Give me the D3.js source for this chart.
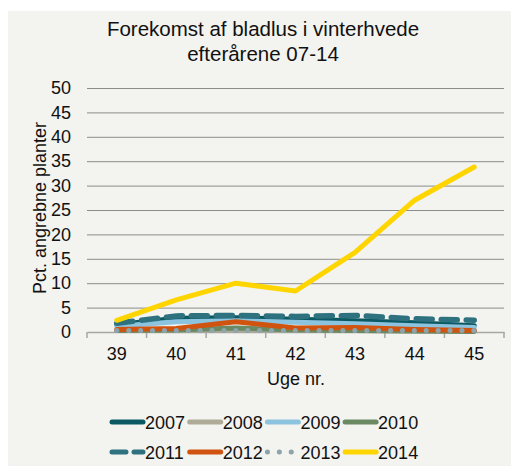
<!DOCTYPE html>
<html>
<head>
<meta charset="utf-8">
<script src="https://cdn.jsdelivr.net/npm/d3@7"></script>
<style>
  body { margin: 0; background: #fff; }
  text { font-family: "Liberation Sans", Arial, sans-serif; fill: #111; }
</style>
</head>
<body>
<svg id="chart" width="511" height="466"></svg>
<script>
// data
var weeks = ["39", "40", "41", "42", "43", "44", "45"];
var yTicks = [0, 5, 10, 15, 20, 25, 30, 35, 40, 45, 50];
var years = ["2007", "2008", "2009", "2010", "2011", "2012", "2013", "2014"];
var v2007 = [1.5, 2.8, 2.9, 2.6, 2.3, 1.9, 1.3];
var v2008 = [0.3, 0.3, 0.5, 0.3, 0.3, 0.2, 0.2];
var v2009 = [1.2, 2.1, 2.3, 2.0, 1.7, 1.3, 0.9];
var v2010 = [0.3, 0.4, 0.8, 0.4, 0.3, 0.2, 0.1];
var v2011 = [1.8, 3.3, 3.4, 3.2, 3.4, 2.7, 2.4];
var v2012 = [0.5, 0.7, 2.1, 0.8, 0.9, 0.5, 0.3];
var v2013 = [0.3, 0.3, 0.3, 0.3, 0.3, 0.3, 0.3];
var v2014 = [2.4, 6.6, 10.0, 8.4, 16.3, 27.0, 33.8];

var values = [v2007, v2008, v2009, v2010, v2011, v2012, v2013, v2014];
var colors = ["#0b5a63", "#aeab98", "#8cc3df", "#6b8a64", "#2e727f", "#d0530f", "#8ea4ab", "#ffd500"];
var dashes = [null, null, null, null, "16,9", null, "0.1,11.8", null];
var widths = [5, 5, 5, 5, 5.5, 5, 5, 5];

var svg = d3.select("#chart");

svg.append("rect")
  .attr("x", 8).attr("y", 11)
  .attr("width", 503).attr("height", 455)
  .attr("fill", "#f3f3ef");

var x = d3.scaleBand().domain(weeks).range([87, 504]);
var y = d3.scaleLinear().domain([0, 50]).range([332, 88]);

// title
svg.append("text").attr("x", 263).attr("y", 36)
  .attr("text-anchor", "middle").attr("font-size", 20.5)
  .text("Forekomst af bladlus i vinterhvede");
svg.append("text").attr("x", 263).attr("y", 61)
  .attr("text-anchor", "middle").attr("font-size", 20.5)
  .text("efterårene 07-14");

// gridlines + y labels
var yAxis = svg.append("g")
  .attr("transform", "translate(87,0)")
  .call(d3.axisLeft(y).tickValues(yTicks.slice(1)).tickSize(-417).tickPadding(16));
yAxis.select(".domain").remove();
yAxis.selectAll(".tick line").attr("stroke", "#8c8c8c");
yAxis.selectAll(".tick text").attr("font-size", 18).attr("font-family", "Liberation Sans, Arial, sans-serif").attr("fill", "#111");

svg.append("text").attr("x", 71).attr("y", y(0) + 6)
  .attr("text-anchor", "end").attr("font-size", 18).text("0");

// x axis
var xAxis = svg.append("g").attr("transform", "translate(0,332)")
  .call(d3.axisBottom(x).tickSize(0).tickPadding(15));
xAxis.select(".domain").attr("stroke", "#a6a6a6").attr("stroke-width", 1.5);
xAxis.selectAll(".tick text").attr("font-size", 18).attr("font-family", "Liberation Sans, Arial, sans-serif").attr("fill", "#111");
xAxis.selectAll("line.sep")
  .data(weeks.concat(["end"]))
  .enter().append("line")
  .attr("class", "sep")
  .attr("x1", function(d, i) { return 87 + i * x.step(); })
  .attr("x2", function(d, i) { return 87 + i * x.step(); })
  .attr("y1", 0).attr("y2", 6)
  .attr("stroke", "#a6a6a6").attr("stroke-width", 1.5);

svg.append("text").attr("x", 296).attr("y", 385)
  .attr("text-anchor", "middle").attr("font-size", 18).text("Uge nr.");

svg.append("text")
  .attr("transform", "translate(46,208) rotate(-90)")
  .attr("text-anchor", "middle").attr("font-size", 18)
  .text("Pct. angrebne planter");

// series
var line = d3.line()
  .x(function(d, i) { return x(weeks[i]) + x.bandwidth() / 2; })
  .y(function(d) { return y(d); });

svg.selectAll("path.series")
  .data(values)
  .enter().append("path")
  .attr("class", "series")
  .attr("d", line)
  .attr("fill", "none")
  .attr("stroke", function(d, i) { return colors[i]; })
  .attr("stroke-width", function(d, i) { return widths[i]; })
  .attr("stroke-linecap", "round")
  .attr("stroke-linejoin", "round")
  .attr("stroke-dasharray", function(d, i) { return dashes[i]; });

// legend
var legend = svg.selectAll("g.leg")
  .data(years)
  .enter().append("g")
  .attr("class", "leg")
  .attr("transform", function(d, i) {
    return "translate(" + (112 + (i % 4) * 77.7) + "," + (422 + Math.floor(i / 4) * 30) + ")";
  });
legend.append("line")
  .attr("x1", 0).attr("x2", 31).attr("y1", 0).attr("y2", 0)
  .attr("stroke", function(d, i) { return colors[i]; })
  .attr("stroke-width", 5)
  .attr("stroke-linecap", "round")
  .attr("stroke-dasharray", function(d, i) { return i == 4 ? "14,8" : dashes[i]; });
legend.append("text")
  .attr("x", 33).attr("y", 6.5)
  .attr("font-size", 18)
  .text(function(d) { return d; });
</script>
</body>
</html>
